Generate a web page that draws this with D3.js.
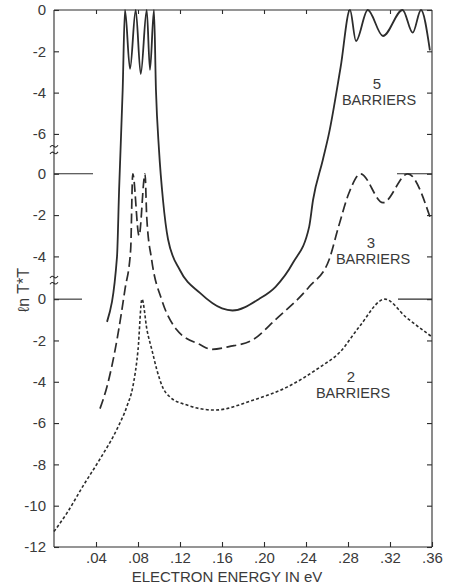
<!DOCTYPE html>
<html>
<head>
<meta charset="utf-8">
<script src="https://cdn.jsdelivr.net/npm/d3@7"></script>
<style>
  html, body { margin: 0; padding: 0; background: #fff; }
  svg { display: block; }
  text { font-family: "Liberation Sans", Arial, sans-serif; fill: #3a3a3a; }
</style>
</head>
<body>
<svg id="chart" width="452" height="586"></svg>
<script>
// Transmission through multiple barriers: ln(T*T) versus electron energy (eV)

// 5 barriers (solid, upper panel)
const energy5 = [0.0505, 0.060, 0.062, 0.0654, 0.0676, 0.0724, 0.0778, 0.0826, 0.0883, 0.0914, 0.0952, 0.0971,
  0.100, 0.1038, 0.1086, 0.120, 0.139, 0.160, 0.170, 0.195, 0.211, 0.2276, 0.243, 0.2467, 0.256, 0.262,
  0.273, 0.2819, 0.2876, 0.2988, 0.3133, 0.332, 0.3416, 0.3495, 0.358];
const lnT5 = [-15.1, -11.95, -8.7, -3.87, 0, -2.85, 0, -3.1, 0, -2.9, 0, -3.87,
  -6.77, -9.2, -11.1, -12.6, -13.7, -14.45, -14.55, -14.0, -13.4, -12.24, -10.5, -9.2, -7.26, -5.95,
  -2.76, 0, -1.5, 0, -1.26, 0, -1.1, 0, -1.95];

// 3 barriers (long dashes, middle panel)
const energy3 = [0.0438, 0.0505, 0.060, 0.0676, 0.073, 0.075, 0.081, 0.0867, 0.0883, 0.093, 0.1026, 0.1169,
  0.139, 0.150, 0.1667, 0.1895, 0.211, 0.243, 0.262, 0.271, 0.281, 0.292, 0.3133, 0.337, 0.358];
const lnT3 = [-11.37, -10.3, -8.03, -5.6, -3.68, 0, -3.0, 0, -2.08, -4.16, -6.1, -7.55,
  -8.27, -8.5, -8.37, -8.03, -7.06, -5.47, -4.16, -2.56, -0.92, 0, -1.4, 0, -2.08];

// 2 barriers (short dashes, lower panel)
const energy2 = [0.0, 0.0124, 0.0276, 0.0438, 0.060, 0.0695, 0.0752, 0.080, 0.0838, 0.0886, 0.0933, 0.098,
  0.1038, 0.1105, 0.1267, 0.153, 0.1895, 0.2219, 0.2533, 0.2724, 0.2905, 0.3152, 0.3352, 0.359];
const lnT2 = [-11.25, -10.35, -9.05, -7.74, -6.29, -5.18, -4.21, -2.47, 0, -1.5, -2.47, -3.43,
  -4.3, -4.74, -5.13, -5.37, -4.89, -4.26, -3.29, -2.56, -1.35, 0, -0.87, -1.79];

// Axis ticks
const xTickValues = [0.04, 0.08, 0.12, 0.16, 0.20, 0.24, 0.28, 0.32, 0.36];
const xTickLabels = [".04", ".08", ".12", ".16", ".20", ".24", ".28", ".32", ".36"];
const yTicksTop = [0, -2, -4, -6];
const yTicksMiddle = [0, -2, -4];
const yTicksBottom = [0, -2, -4, -6, -8, -10, -12];

const barrierCounts = ["5", "3", "2"];

(function draw() {
  const svg = d3.select("#chart");
  const mLeft = 54, mRight = 432, mTop = 10, mBottom = 547;
  const ink = "#2c2c2c";
  const font = "'Liberation Sans', Arial, sans-serif";

  const x = d3.scaleLinear().domain([0, 0.36]).range([mLeft, mRight]);
  // one shared vertical extent; each panel moves its own zero further down
  const panelScale = off => d3.scaleLinear().domain([-26 + off, off]).range([mBottom, mTop]);
  const yTop = panelScale(0), yMid = panelScale(7.93), yBot = panelScale(14);

  // frame
  const frame = svg.append("g").attr("stroke", ink).attr("stroke-width", 1.1).attr("fill", "none");
  frame.append("line").attr("x1", mLeft).attr("x2", mRight).attr("y1", mTop).attr("y2", mTop);
  frame.append("line").attr("x1", mLeft).attr("x2", mRight).attr("y1", mBottom).attr("y2", mBottom);
  frame.append("line").attr("x1", mRight).attr("x2", mRight).attr("y1", mTop).attr("y2", mBottom);
  frame.append("line").attr("x1", mLeft).attr("x2", mLeft).attr("y1", mTop).attr("y2", mBottom);

  // x axis (bottom) with labels
  const xAxis = d3.axisBottom(x).tickValues(xTickValues)
    .tickFormat((d, i) => xTickLabels[i]).tickSize(-5).tickPadding(5);
  const gx = svg.append("g").attr("transform", `translate(0,${mBottom})`).call(xAxis);
  gx.select(".domain").remove();
  gx.selectAll(".tick line").attr("stroke", ink).attr("stroke-width", 1.1);
  gx.selectAll(".tick text").attr("font-size", 15).attr("fill", "#3a3a3a").style("font-family", font);

  // x ticks along the top edge
  const gxt = svg.append("g").attr("transform", `translate(0,${mTop})`)
    .call(d3.axisTop(x).tickValues(xTickValues.slice(0, -1)).tickSize(-4).tickFormat(""));
  gxt.select(".domain").remove();
  gxt.selectAll(".tick line").attr("stroke", ink).attr("stroke-width", 1.1);

  // left axis ticks per panel, mirrored on the right edge
  function panelAxis(scale, ticks) {
    const g = svg.append("g").attr("transform", `translate(${mLeft},0)`)
      .call(d3.axisLeft(scale).tickValues(ticks).tickSize(-5).tickPadding(8));
    g.select(".domain").remove();
    g.selectAll(".tick line").attr("stroke", ink).attr("stroke-width", 1.1);
    g.selectAll(".tick text").attr("font-size", 15).attr("fill", "#3a3a3a").style("font-family", font)
      .text(d => d < 0 ? "-" + Math.abs(d) : String(d));
    const r = svg.append("g").attr("transform", `translate(${mRight},0)`)
      .call(d3.axisRight(scale).tickValues(ticks).tickSize(-5).tickFormat(""));
    r.select(".domain").remove();
    r.selectAll(".tick line").attr("stroke", ink).attr("stroke-width", 1.1);
  }
  panelAxis(yTop, yTicksTop);
  panelAxis(yMid, yTicksMiddle);
  panelAxis(yBot, yTicksBottom);

  // longer zero lines where the lower panels begin
  const zeros = svg.append("g").attr("stroke", ink).attr("stroke-width", 1.1);
  zeros.append("line").attr("x1", mLeft).attr("x2", 93).attr("y1", yMid(0)).attr("y2", yMid(0));
  zeros.append("line").attr("x1", mLeft).attr("x2", 82).attr("y1", yBot(0)).attr("y2", yBot(0));
  zeros.append("line").attr("x1", 397).attr("x2", mRight).attr("y1", yMid(0)).attr("y2", yMid(0));
  zeros.append("line").attr("x1", 398).attr("x2", mRight).attr("y1", yBot(0)).attr("y2", yBot(0));

  // axis break marks between panels
  const breakYs = [yTop(-6.6), yTop(-6.92), yMid(-5.0), yMid(-5.3)];
  svg.append("g").selectAll("path").data(breakYs).join("path")
    .attr("d", d => `M${mLeft - 4},${d + 1} q2,-3 4,-1 q2,2 4,-1`)
    .attr("fill", "none").attr("stroke", ink).attr("stroke-width", 1.1);

  // curves
  const line = sc => d3.line().x(d => x(d[0])).y(d => sc(d[1])).curve(d3.curveMonotoneX);
  const zip = (a, b) => a.map((v, i) => [v, b[i]]);

  svg.append("path").datum(zip(energy5, lnT5))
    .attr("d", line(yTop)).attr("fill", "none").attr("stroke", ink).attr("stroke-width", 1.8);
  svg.append("path").datum(zip(energy3, lnT3))
    .attr("d", line(yMid)).attr("fill", "none").attr("stroke", ink).attr("stroke-width", 1.7)
    .attr("stroke-dasharray", "10,4.5");
  svg.append("path").datum(zip(energy2, lnT2))
    .attr("d", line(yBot)).attr("fill", "none").attr("stroke", ink).attr("stroke-width", 1.6)
    .attr("stroke-dasharray", "3,2.2");

  // curve labels
  const labelSpots = [
    { cx: 379, y1: 89, y2: 105 },
    { cx: 373, y1: 248, y2: 264 },
    { cx: 353, y1: 382, y2: 398 }
  ];
  labelSpots.forEach((s, i) => {
    svg.append("text").attr("x", s.cx - 2).attr("y", s.y1).attr("text-anchor", "middle")
      .attr("font-size", 15).text(barrierCounts[i]);
    svg.append("text").attr("x", s.cx).attr("y", s.y2).attr("text-anchor", "middle")
      .attr("font-size", 14.5).text("BARRIERS");
  });

  // axis titles
  svg.append("text").attr("x", 227).attr("y", 582).attr("text-anchor", "middle")
    .attr("font-size", 15).text("ELECTRON ENERGY IN eV");
  svg.append("text").attr("transform", "translate(29,290) rotate(-90)").attr("text-anchor", "middle")
    .attr("font-size", 16).text("ℓn T*T");
})();
</script>
</body>
</html>
